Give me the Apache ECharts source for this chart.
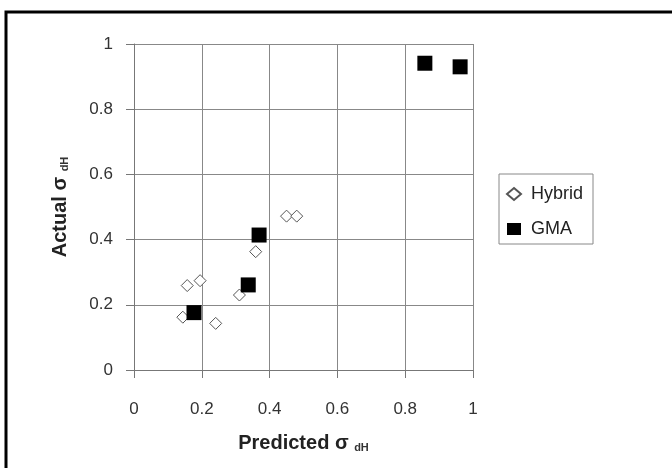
<!doctype html>
<html>
<head>
<meta charset="utf-8">
<script src="https://cdn.jsdelivr.net/npm/echarts@6/dist/echarts.min.js"></script>
<style>
  html, body { margin: 0; padding: 0; background: #fff; }
  #main { width: 672px; height: 468px; }
</style>
</head>
<body>
<div id="main"></div>
<script>
    // values
    var hybridX = [0.450, 0.480, 0.359, 0.157, 0.195, 0.311, 0.144, 0.241];
    var hybridY = [0.472, 0.472, 0.363, 0.259, 0.274, 0.230, 0.162, 0.143];
    var gmaX = [0.858, 0.962, 0.369, 0.337, 0.177];
    var gmaY = [0.941, 0.930, 0.414, 0.261, 0.176];
    var seriesNames = ['Hybrid', 'GMA'];

    function pairs(xs, ys) {
        var out = [];
        for (var i = 0; i < xs.length; i++) out.push([xs[i], ys[i]]);
        return out;
    }

    var font = 'Liberation Sans, Arial, sans-serif';
    var titleRich = {
        a: { fontFamily: font, fontSize: 20, fontWeight: 'bold', color: '#222' },
        s: { fontFamily: font, fontSize: 11, fontWeight: 'bold', color: '#333', padding: [9, 0, 0, 0] }
    };
    var myChart = echarts.init(document.getElementById('main'));
    myChart.setOption({
        animation: false,
        backgroundColor: '#fff',
        textStyle: { fontFamily: font },
        graphic: [{
            type: 'rect',
            shape: { x: 6, y: 12, width: 720, height: 520 },
            style: { fill: 'none', stroke: '#000', lineWidth: 3 },
            silent: true
        }],
        grid: { left: 134, right: 199, top: 44, bottom: 98 },
        legend: {
            orient: 'vertical',
            left: 499, top: 174,
            padding: [11, 10, 6, 7],
            itemGap: 17,
            itemWidth: 14, itemHeight: 12,
            borderColor: '#888', borderWidth: 1,
            textStyle: { fontFamily: font, fontSize: 18, color: '#222', padding: [0, 0, 0, 5] },
            data: seriesNames
        },
        xAxis: {
            type: 'value', min: 0, max: 1, interval: 0.2,
            name: '{a|Predicted σ }{s|dH}',
            nameLocation: 'middle', nameGap: 63,
            nameTextStyle: { rich: titleRich },
            axisLine: { lineStyle: { color: '#777', width: 1 } },
            axisTick: { show: true, inside: false, length: 8, lineStyle: { color: '#777' } },
            axisLabel: { fontSize: 17, color: '#333', margin: 31, formatter: function (v) { return String(+v.toFixed(1)); } },
            splitLine: { show: true, lineStyle: { color: '#888', width: 1 } }
        },
        yAxis: {
            type: 'value', min: 0, max: 1, interval: 0.2,
            name: '{a|Actual σ }{s|dH}',
            nameLocation: 'middle', nameGap: 64, nameRotate: 90,
            nameTextStyle: { rich: titleRich },
            axisLine: { show: true, lineStyle: { color: '#777', width: 1 } },
            axisTick: { show: true, inside: false, length: 8, lineStyle: { color: '#777' } },
            axisLabel: { fontSize: 17, color: '#333', margin: 21, formatter: function (v) { return String(+v.toFixed(1)); } },
            splitLine: { show: true, lineStyle: { color: '#888', width: 1 } }
        },
        series: [{
            name: 'Hybrid',
            type: 'scatter',
            symbol: 'diamond',
            symbolSize: 12,
            itemStyle: { color: '#fff', borderColor: '#555', borderWidth: 1, opacity: 1 },
            data: pairs(hybridX, hybridY)
        }, {
            name: 'GMA',
            type: 'scatter',
            symbol: 'rect',
            symbolSize: 15,
            itemStyle: { color: '#000', opacity: 1 },
            data: pairs(gmaX, gmaY)
        }]
    });
</script>
</body>
</html>
